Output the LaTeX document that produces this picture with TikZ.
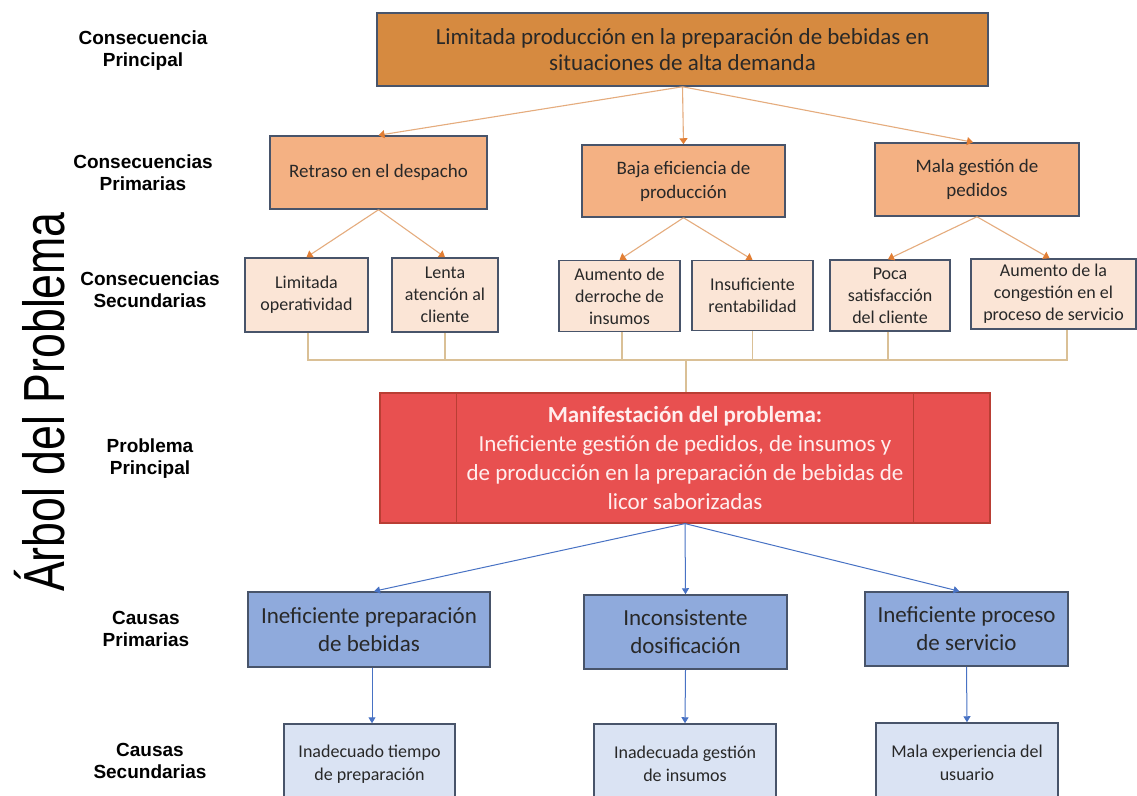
\documentclass[tikz,border=0pt]{standalone}
\usepackage{fontspec}
\setmainfont{Carlito}
\newfontfamily\labfont{Liberation Sans}
\usetikzlibrary{arrows.meta}
\definecolor{topor}{RGB}{214,138,64}
\definecolor{primor}{RGB}{244,177,131}
\definecolor{secor}{RGB}{251,229,214}
\definecolor{bordc}{RGB}{72,84,106}
\definecolor{txtc}{RGB}{40,40,40}
\definecolor{orline}{RGB}{229,172,125}
\definecolor{ortip}{RGB}{226,126,52}
\definecolor{busc}{RGB}{218,192,150}
\definecolor{redc}{RGB}{232,80,80}
\definecolor{reddark}{RGB}{185,62,52}
\definecolor{bluec}{RGB}{143,170,220}
\definecolor{lblue}{RGB}{218,227,243}
\definecolor{bline}{RGB}{72,114,196}
\definecolor{probtxt}{RGB}{255,238,238}
\begin{document}
\begin{tikzpicture}[x=1pt,y=-1pt,
  box/.style={draw=bordc, line width=1.5pt, align=center, inner sep=2pt, text=txtc},
  topbox/.style={box, fill=topor, font=\fontsize{23}{26}\selectfont},
  primbox/.style={box, fill=primor, font=\fontsize{19}{24}\selectfont},
  secbox/.style={box, fill=secor, font=\fontsize{18}{22}\selectfont},
  probbox/.style={draw=reddark, line width=1.2pt, fill=redc, align=center, text=probtxt, font=\fontsize{23}{29}\selectfont},
  causebox/.style={box, fill=bluec, font=\fontsize{23}{28}\selectfont},
  scausebox/.style={box, fill=lblue, font=\fontsize{18}{23}\selectfont},
  lab/.style={align=center, text=black, font=\labfont\bfseries\fontsize{19}{22}\selectfont},
  orarrow/.style={draw=orline, line width=1.1pt, -{Triangle[length=6pt,width=8pt,color=ortip]}},
  busline/.style={draw=busc, line width=1.1pt},
  barrow/.style={draw=bline, line width=1pt, -{Triangle[length=6pt,width=7pt,color=bline]}},
]
\useasboundingbox (0,0) rectangle (1137,795);
\clip (0,0) rectangle (1137,795);
\fill[white] (0,0) rectangle (1137,795);

% title
\node[rotate=90, font=\labfont\fontsize{58}{60}\selectfont] (title) at (40,402) {\scalebox{0.77}[1]{Árbol del Problema}};

% left labels
\node[lab] (l1) at (143,51) {Consecuencia\\Principal};
\node[lab] (l2) at (143,173) {Consecuencias\\Primarias};
\node[lab] (l3) at (150,290) {Consecuencias\\Secundarias};
\node[lab] (l4) at (150,459) {Problema\\Principal};
\node[lab] (l5) at (146,629) {Causas\\Primarias};
\node[lab] (l6) at (150,761) {Causas\\Secundarias};

% top
\node[topbox, minimum width=611pt, minimum height=73pt] (top) at (682.5,49.5)
  {Limitada producción en la preparación de bebidas en\\situaciones de alta demanda};

% primary consequences
\node[primbox, minimum width=217pt, minimum height=73pt] (retraso) at (378.5,172.5) {Retraso en el despacho};
\node[primbox, minimum width=203pt, minimum height=72pt] (baja) at (683.5,181) {Baja eficiencia de\\producción};
\node[primbox, minimum width=204pt, minimum height=73pt] (mala) at (977,179.5) {Mala gestión de\\pedidos};

% secondary consequences
\node[secbox, minimum width=123pt, minimum height=74pt] (limop) at (306.5,295) {Limitada\\operatividad};
\node[secbox, minimum width=106pt, minimum height=74pt] (lenta) at (445,295) {Lenta\\atención al\\cliente};
\node[secbox, minimum width=121pt, minimum height=71pt] (derroche) at (619.5,296) {Aumento de\\derroche de\\insumos};
\node[secbox, minimum width=121pt, minimum height=70pt] (insuf) at (752.5,295.5) {Insuficiente\\rentabilidad};
\node[secbox, minimum width=120pt, minimum height=71pt] (poca) at (890,295.5) {Poca\\satisfacción\\del cliente};
\node[secbox, minimum width=165pt, minimum height=70pt] (congest) at (1053.5,294) {Aumento de la\\congestión en el\\proceso de servicio};

% problem
\node[probbox, minimum width=610pt, minimum height=130pt] (prob) at (685,458)
  {\textbf{Manifestación del problema:}\\Ineficiente gestión de pedidos, de insumos y\\de producción en la preparación de bebidas de\\licor saborizadas};
\draw[draw=reddark, line width=1.2pt] ([xshift=77pt]prob.north west) -- ([xshift=77pt]prob.south west);
\draw[draw=reddark, line width=1.2pt] ([xshift=-77pt]prob.north east) -- ([xshift=-77pt]prob.south east);

% primary causes
\node[causebox, minimum width=242pt, minimum height=75pt] (c1) at (369,629.5) {Ineficiente preparación\\de bebidas};
\node[causebox, minimum width=203pt, minimum height=74pt] (c2) at (685.5,632) {Inconsistente\\dosificación};
\node[causebox, minimum width=203pt, minimum height=74pt] (c3) at (966.5,629) {Ineficiente proceso\\de servicio};

% secondary causes
\node[scausebox, minimum width=171pt, minimum height=80pt] (s1) at (369.5,764) {Inadecuado tiempo\\de preparación};
\node[scausebox, minimum width=182pt, minimum height=80pt] (s2) at (685,764) {Inadecuada gestión\\de insumos};
\node[scausebox, minimum width=182pt, minimum height=80pt] (s3) at (967,763) {Mala experiencia del\\usuario};

% orange arrows
\draw[orarrow] (top.south) -- (retraso.north);
\draw[orarrow] (top.south) -- (baja.north);
\draw[orarrow] (top.south) -- ([xshift=-4pt]mala.north);
\draw[orarrow] (retraso.south) -- (limop.north);
\draw[orarrow] (retraso.south) -- (lenta.north);
\draw[orarrow] (baja.south) -- (derroche.north);
\draw[orarrow] (baja.south) -- (insuf.north);
\draw[orarrow] (mala.south) -- ([xshift=-2pt]poca.north);
\draw[orarrow] (mala.south) -- ([xshift=-4pt]congest.north);

% bus
\coordinate (busL) at (308,360);
\coordinate (busR) at (1067,360);
\coordinate (busM) at (686,360);
\draw[busline] ([xshift=1.5pt]limop.south) |- (busL) -- (busR) -- ([xshift=13.5pt]congest.south);
\draw[busline] (lenta.south) -- (lenta.south |- busL);
\draw[busline] ([xshift=2.5pt]derroche.south) -- ([xshift=2.5pt]derroche.south |- busL);
\draw[busline] (insuf.south) -- (insuf.south |- busL);
\draw[busline] ([xshift=-2pt]poca.south) -- ([xshift=-2pt]poca.south |- busL);
\draw[busline] (busM) -- (prob.north -| busM);

% blue arrows
\draw[barrow] (prob.south) -- ([xshift=5pt]c1.north);
\draw[barrow] (prob.south) -- (c2.north);
\draw[barrow] (prob.south) -- ([xshift=-7pt]c3.north);
\draw[barrow] ([xshift=3pt]c1.south) -- ([xshift=2.5pt]s1.north);
\draw[barrow] (c2.south) -- (s2.north);
\draw[barrow] (c3.south) -- (s3.north);
\end{tikzpicture}
\end{document}
